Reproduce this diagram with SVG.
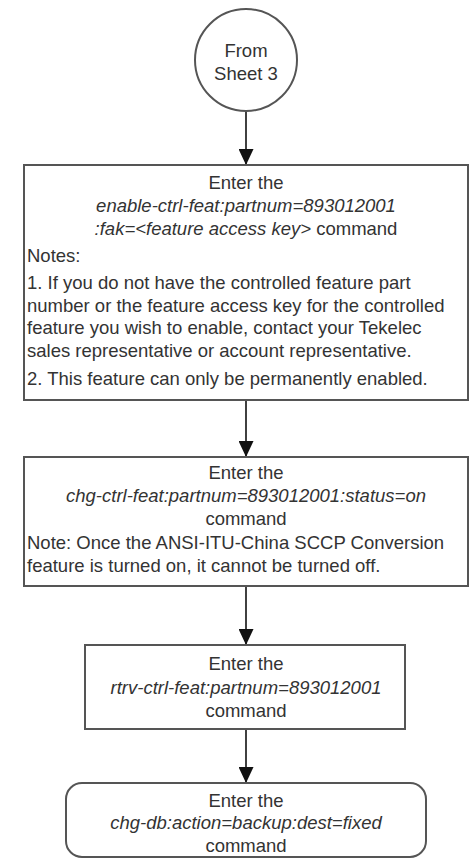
<svg xmlns="http://www.w3.org/2000/svg" width="470" height="858" viewBox="0 0 470 858">
<style>
.t{font-family:"Liberation Sans",Arial,sans-serif;font-size:18.5px;fill:#333}
.c{text-anchor:middle}
.i{font-style:italic}
.box{fill:#fff;stroke:#555;stroke-width:2}
.con{stroke:#111;stroke-width:1.6;fill:none}
</style>
<defs>
<marker id="ah" viewBox="0 0 16 15" refX="16" refY="7.5" markerWidth="16" markerHeight="15" markerUnits="userSpaceOnUse" orient="auto">
<path d="M0,0 L16,7.5 L0,15 Z" fill="#111"/>
</marker>
</defs>
<rect width="470" height="858" fill="#fff"/>
<g id="connectors">
<line class="con" x1="246" y1="111" x2="246" y2="165" marker-end="url(#ah)"/>
<line class="con" x1="246" y1="400" x2="246" y2="457" marker-end="url(#ah)"/>
<line class="con" x1="246" y1="586" x2="246" y2="645" marker-end="url(#ah)"/>
<line class="con" x1="246" y1="729" x2="246" y2="783" marker-end="url(#ah)"/>
</g>
<g id="start">
<circle cx="246" cy="60" r="51" fill="#fff" stroke="#555" stroke-width="2"/>
<text class="t c" x="246" y="56.5">From</text>
<text class="t c" x="246" y="79.5">Sheet 3</text>
</g>
<g id="enable">
<rect class="box" x="24" y="165" width="444" height="235"/>
<text class="t c" x="246" y="188.5">Enter the</text>
<text class="t c i" x="246" y="211.5">enable-ctrl-feat:partnum=893012001</text>
<text class="t c" x="246" y="234.5"><tspan class="i">:fak=&lt;feature access key&gt;</tspan> command</text>
<text class="t" x="27" y="261.5">Notes:</text>
<text class="t" x="27" y="288.5">1. If you do not have the controlled feature part</text>
<text class="t" x="27" y="311.5">number or the feature access key for the controlled</text>
<text class="t" x="27" y="333.5">feature you wish to enable, contact your Tekelec</text>
<text class="t" x="27" y="356.5">sales representative or account representative.</text>
<text class="t" x="27" y="384.5">2. This feature can only be permanently enabled.</text>
</g>
<g id="turnon">
<rect class="box" x="24" y="457" width="444" height="129"/>
<text class="t c" x="246" y="478.5">Enter the</text>
<text class="t c i" x="246" y="501.5">chg-ctrl-feat:partnum=893012001:status=on</text>
<text class="t c" x="246" y="524.5">command</text>
<text class="t" x="27" y="548.5">Note: Once the ANSI-ITU-China SCCP Conversion</text>
<text class="t" x="27" y="571.5">feature is turned on, it cannot be turned off.</text>
</g>
<g id="verify">
<rect class="box" x="85" y="645" width="320" height="84"/>
<text class="t c" x="246" y="669.5">Enter the</text>
<text class="t c i" x="246" y="693.5">rtrv-ctrl-feat:partnum=893012001</text>
<text class="t c" x="246" y="716.5">command</text>
</g>
<g id="backup">
<rect class="box" x="66" y="783" width="360" height="74" rx="16" ry="16"/>
<text class="t c" x="246" y="806.5">Enter the</text>
<text class="t c i" x="246" y="828.5">chg-db:action=backup:dest=fixed</text>
<text class="t c" x="246" y="851.5">command</text>
</g>
</svg>
